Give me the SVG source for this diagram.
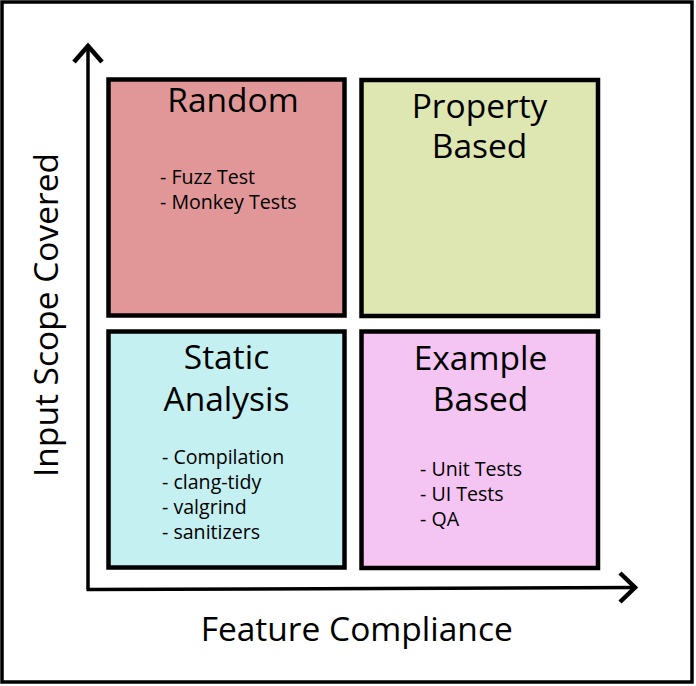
<svg xmlns="http://www.w3.org/2000/svg" width="696" height="686" viewBox="0 0 696 686">
<style>
.box{stroke:#000;stroke-width:4.5}
.big{font-family:"Open Sans","Noto Sans",sans-serif;font-size:33.5px;fill:#000;text-anchor:middle}
.small{font-family:"Open Sans","Noto Sans",sans-serif;font-size:19.6px;fill:#000}
.axis{fill:none;stroke:#000;stroke-width:3.5}
.head{fill:none;stroke:#000;stroke-width:4.5;stroke-linejoin:miter}
</style>
<rect x="0" y="0" width="696" height="686" fill="#fff"/>
<rect x="2" y="2" width="690" height="680" fill="#fff" stroke="#000" stroke-width="3.5"/>
<g id="connectors">
<path class="axis" d="M88,589 L88,45"/>
<path class="head" d="M74,62 L88,46 L102,62"/>
<path class="axis" d="M86.5,589.5 L634,587.5"/>
<path class="head" d="M620,573 L635,587.5 L620,602"/>
</g>
<g id="random">
<rect class="box" x="108.5" y="79.5" width="236" height="236" fill="#e19797"/>
<text class="big" x="233" y="111.5">Random</text>
<text class="small" x="160" y="184">- Fuzz Test<tspan x="160" dy="25">- Monkey Tests</tspan></text>
</g>
<g id="property">
<rect class="box" x="361.5" y="80" width="236.5" height="236" fill="#dee6b2"/>
<text class="big" x="479.5" y="118.3">Property<tspan x="479.5" dy="39.2">Based</tspan></text>
</g>
<g id="static">
<rect class="box" x="108.5" y="331.5" width="236" height="236" fill="#c5f0f1"/>
<text class="big" x="226.5" y="369.3">Static<tspan x="226.5" dy="41.4">Analysis</tspan></text>
<text class="small" x="162" y="464">- Compilation<tspan x="162" dy="25">- clang-tidy</tspan><tspan x="162" dy="25">- valgrind</tspan><tspan x="162" dy="25">- sanitizers</tspan></text>
</g>
<g id="example">
<rect class="box" x="361.5" y="331.5" width="236.5" height="236.5" fill="#f4c4f2"/>
<text class="big" x="480.5" y="370">Example<tspan x="480.5" dy="40.7">Based</tspan></text>
<text class="small" x="420" y="475.7">- Unit Tests<tspan x="420" dy="25">- UI Tests</tspan><tspan x="420" dy="25">- QA</tspan></text>
</g>
<g id="labels">
<text class="big" x="356.7" y="640.7">Feature Compliance</text>
<text class="big" transform="translate(58,315) rotate(-90)" x="0" y="0">Input Scope Covered</text>
</g>
</svg>
